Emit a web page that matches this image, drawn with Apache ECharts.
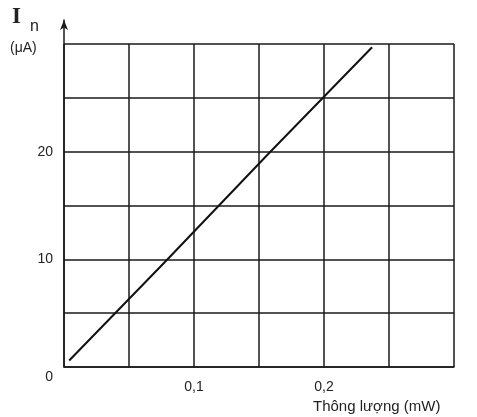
<!DOCTYPE html>
<html>
<head>
<meta charset="utf-8">
<script src="https://cdn.jsdelivr.net/npm/echarts@6/dist/echarts.min.js"></script>
<style>
html, body { margin: 0; padding: 0; background: #fff; }
#chart { width: 477px; height: 417px; }
</style>
</head>
<body>
<div id="chart"></div>
<script>
// thong luong (mW) vs I_n (uA)
const fluxData = [0.004, 0.078, 0.158, 0.237]
const currentData = [0.6, 9.8, 19.9, 29.7]
const xTickLabels = ['0,1', '0,2']
const yTickLabels = ['0', '10', '20']

let myChart = echarts.init(document.getElementById('chart'))
const ink = '#1a1a1a'
const font = 'Liberation Sans, Arial, sans-serif'

let option = {
    backgroundColor: '#FFFFFF',
    animation: false,
    grid: [
        { left: 64, right: 23, top: 44, bottom: 50 },
        // only for the y axis arrow which sticks out above the grid
        { left: 64, right: 23, top: 20, bottom: 50 }
    ],
    xAxis: [{
        type: 'value',
        gridIndex: 0,
        min: 0,
        max: 0.3,
        interval: 0.05,
        axisLine: { lineStyle: { color: ink, width: 1.5 } },
        axisTick: { show: false },
        splitLine: { show: true, lineStyle: { color: ink, width: 1.5 } },
        axisLabel: {
            margin: 13,
            fontFamily: font,
            fontSize: 14,
            color: '#222',
            formatter: function (val) {
                if (Math.abs(val - 0.1) < 1e-6) return xTickLabels[0]
                if (Math.abs(val - 0.2) < 1e-6) return xTickLabels[1]
                return ''
            }
        }
    }, {
        type: 'value',
        gridIndex: 1,
        show: false
    }],
    yAxis: [{
        type: 'value',
        gridIndex: 0,
        min: 0,
        max: 30,
        interval: 5,
        axisLine: { show: false },
        axisTick: { show: false },
        splitLine: { show: true, lineStyle: { color: ink, width: 1.5 } },
        axisLabel: {
            margin: 11,
            fontFamily: font,
            fontSize: 14,
            color: '#222',
            formatter: function (val) {
                if (val === 0) return '{z|' + yTickLabels[0] + '}'
                if (val === 10) return yTickLabels[1]
                if (val === 20) return yTickLabels[2]
                return ''
            },
            rich: {
                z: { padding: [20, 0, 0, 0], fontSize: 14, fontFamily: font, color: '#222' }
            }
        }
    }, {
        type: 'value',
        gridIndex: 1,
        axisLine: {
            show: true,
            lineStyle: { color: ink, width: 1.5 },
            symbol: ['none', 'arrow'],
            symbolSize: [6, 10]
        },
        axisTick: { show: false },
        axisLabel: { show: false },
        splitLine: { show: false }
    }],
    graphic: [
        {
            type: 'text', left: 12, top: 6,
            style: { text: 'I', font: 'bold 23px "Liberation Serif", serif', fill: '#222' }
        },
        {
            type: 'text', left: 30, top: 19,
            style: { text: 'n', font: '16px "Liberation Sans", sans-serif', fill: '#222' }
        },
        {
            type: 'text', left: 10, top: 41,
            style: { text: '(μA)', font: '14px "Liberation Sans", sans-serif', fill: '#222' }
        },
        {
            type: 'text', left: 313, top: 399,
            style: { text: 'Thông lượng (mW)', font: '15px "Liberation Sans", sans-serif', fill: '#222' }
        }
    ],
    series: [{
        type: 'line',
        xAxisIndex: 0,
        yAxisIndex: 0,
        data: fluxData.map((x, i) => [x, currentData[i]]),
        showSymbol: false,
        lineStyle: { color: '#111', width: 2 }
    }]
}
myChart.setOption(option)
</script>
</body>
</html>
